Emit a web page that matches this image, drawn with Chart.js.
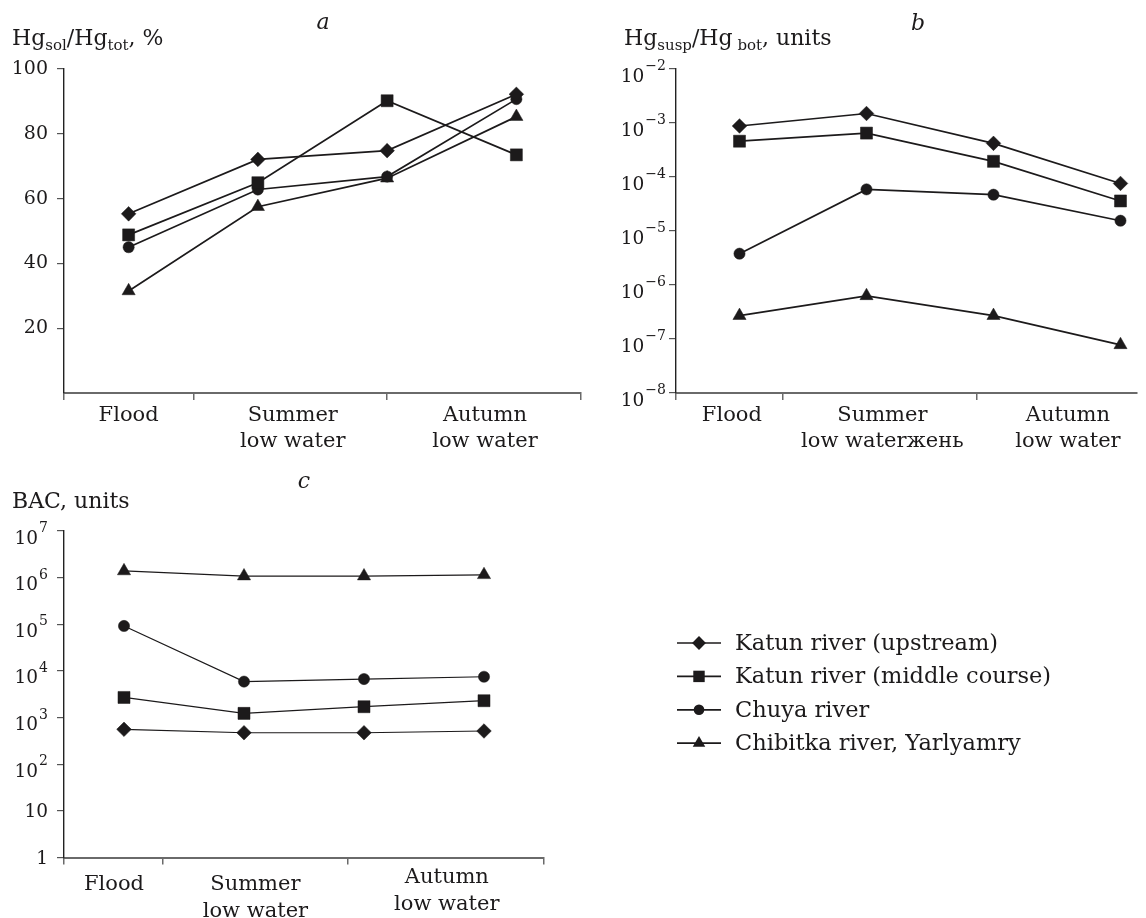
<!DOCTYPE html>
<html>
<head>
<meta charset="utf-8">
<title>Hg in Altai rivers</title>
<script src="https://cdn.jsdelivr.net/npm/chart.js@4.4.1/dist/chart.umd.min.js"></script>
<style>
  html, body { margin: 0; padding: 0; background: #fff; }
  #page { position: relative; width: 1146px; height: 918px; overflow: hidden; }
  .panel { position: absolute; }
</style>
</head>
<body>
<div id="page">
  <div class="panel" style="left:0;top:0;width:590px;height:460px"><canvas id="chartA"></canvas></div>
  <div class="panel" style="left:590px;top:0;width:556px;height:460px"><canvas id="chartB"></canvas></div>
  <div class="panel" style="left:0;top:460px;width:1146px;height:458px"><canvas id="chartC"></canvas></div>
</div>
<script>
// --- data ---
const samplePoints = [0, 1, 2, 3];
const rivers = ['Katun river (upstream)', 'Katun river (middle course)', 'Chuya river', 'Chibitka river, Yarlyamry'];
const periodsA = [['Flood'], ['Summer', 'low water'], ['Autumn', 'low water']];
const periodsB = [['Flood'], ['Summer', 'low waterжень'], ['Autumn', 'low water']];
const periodsC = [['Flood'], ['Summer', 'low water'], ['Autumn', 'low water']];

// a: Hg sol / Hg tot, %
const solKatunUp  = [55.3, 72.1, 74.8, 92.2];
const solKatunMid = [48.8, 64.9, 90.2, 73.5];
const solChuya    = [45.0, 62.8, 66.8, 90.7];
const solChibitka = [31.5, 57.5, 66.3, 85.3];
const ticksA = [20, 40, 60, 80, 100];

// b: Hg susp / Hg bot, units
const suspKatunUp  = [8.8e-4, 1.5e-3, 4.2e-4, 7.6e-5];
const suspKatunMid = [4.6e-4, 6.5e-4, 1.95e-4, 3.6e-5];
const suspChuya    = [3.8e-6, 5.9e-5, 4.7e-5, 1.55e-5];
const suspChibitka = [2.7e-7, 6.3e-7, 2.7e-7, 7.8e-8];
const powersB = [-8, -7, -6, -5, -4, -3, -2];

// c: BAC, units
const bacKatunUp  = [560, 473, 473, 515];
const bacKatunMid = [2700, 1230, 1710, 2300];
const bacChuya    = [92000, 5900, 6700, 7500];
const bacChibitka = [1.39e6, 1.08e6, 1.08e6, 1.15e6];
const powersC = [0, 1, 2, 3, 4, 5, 6, 7];

// --- style ---
const FONT = '"DejaVu Serif", "Liberation Serif", serif';
const INK = '#1c1a1b';
const shapes = ['rectRot', 'rect', 'circle', 'triangle'];
const radii = [7.3, 8.5, 5.6, 7.6];

Chart.defaults.font.family = FONT;
Chart.defaults.color = INK;

function drawRich(ctx, x, y, parts, size) {
  let cx = x;
  for (const [t, kind] of parts) {
    const s = kind === 'n' ? size : Math.round(size * 0.7);
    const dy = kind === 'sub' ? size * 0.22 : 0;
    ctx.font = s + 'px ' + FONT;
    ctx.fillText(t, cx, y + dy);
    cx += ctx.measureText(t).width;
  }
  return cx - x;
}

function drawMarker(ctx, shape, r, x, y) {
  ctx.beginPath();
  if (shape === 'circle') {
    ctx.arc(x, y, r, 0, Math.PI * 2);
  } else if (shape === 'rect') {
    const s = r * Math.SQRT1_2;
    ctx.rect(x - s, y - s, 2 * s, 2 * s);
  } else if (shape === 'rectRot') {
    ctx.moveTo(x, y - r); ctx.lineTo(x + r, y); ctx.lineTo(x, y + r); ctx.lineTo(x - r, y);
  } else {
    let a = 0;
    ctx.moveTo(x + Math.sin(a) * r, y - Math.cos(a) * r);
    a += Math.PI * 2 / 3;
    ctx.lineTo(x + Math.sin(a) * r, y - Math.cos(a) * r);
    a += Math.PI * 2 / 3;
    ctx.lineTo(x + Math.sin(a) * r, y - Math.cos(a) * r);
  }
  ctx.closePath();
  ctx.fill();
}

// texts that Chart.js can't typeset (sub/superscripts, free placed labels)
const panelText = {
  id: 'panelText',
  afterDraw(chart, args, o) {
    const ctx = chart.ctx;
    const xs = chart.scales.x, ys = chart.scales.y;
    ctx.save();
    ctx.fillStyle = INK;
    ctx.textBaseline = 'alphabetic';
    ctx.textAlign = 'center';
    ctx.font = 'italic 22px ' + FONT;
    ctx.fillText(o.letter, o.letterX, o.letterY);

    ctx.textAlign = 'left';
    drawRich(ctx, o.titleX, o.titleY, o.title, o.titleSize);

    ctx.textAlign = 'center';
    ctx.font = '21px ' + FONT;
    o.periods.forEach((lines, i) => {
      const px = xs.getPixelForValue(o.labelAt[i]);
      lines.forEach((ln, k) => ctx.fillText(ln, px, o.labelY[i] + k * o.lineGap));
    });

    if (o.powers) {
      ctx.textAlign = 'left';
      const right = chart.chartArea.left - 7 - o.tickGap;
      o.powers.forEach(p => {
        const y = ys.getPixelForValue(Math.pow(10, p));
        if (p === 0 || p === 1) {
          ctx.font = '18.5px ' + FONT;
          const t = p === 0 ? '1' : '10';
          ctx.fillText(t, right - ctx.measureText(t).width, y + 6.5);
        } else {
          const sup = p < 0 ? '\u2212' + (-p) : String(p);
          ctx.font = '14px ' + FONT;
          const ws = ctx.measureText(sup).width;
          ctx.fillText(sup, right - ws, y + 1);
          ctx.font = '18.5px ' + FONT;
          const w10 = ctx.measureText('10').width;
          ctx.fillText('10', right - ws - 1 - w10, y + 12.5);
        }
      });
    }
    ctx.restore();
  }
};

const riverLegend = {
  id: 'riverLegend',
  afterDraw(chart, args, o) {
    if (!o.show) return;
    const ctx = chart.ctx;
    ctx.save();
    chart.data.datasets.forEach((ds, i) => {
      const y = o.top + i * o.rowGap;
      ctx.strokeStyle = INK;
      ctx.lineWidth = 1.7;
      ctx.beginPath(); ctx.moveTo(o.lineFrom, y); ctx.lineTo(o.lineTo, y); ctx.stroke();
      ctx.fillStyle = INK;
      drawMarker(ctx, ds.pointStyle, ds.pointRadius * 0.95, (o.lineFrom + o.lineTo) / 2, y);
      ctx.font = '22.5px ' + FONT;
      ctx.textAlign = 'left';
      ctx.textBaseline = 'middle';
      ctx.fillText(ds.label, o.textX, y + 1);
    });
    ctx.restore();
  }
};

function makeChart(id, spec) {
  const datasets = spec.series.map((vals, i) => ({
    label: rivers[i],
    data: samplePoints.map((x, j) => ({ x: x, y: vals[j] })),
    borderColor: INK,
    backgroundColor: INK,
    borderWidth: spec.lineWidth,
    pointStyle: shapes[i],
    pointRadius: radii[i],
    pointBorderWidth: 0.5,
    pointBorderColor: INK,
    pointBackgroundColor: INK,
    tension: 0
  }));

  const yScale = {
    type: spec.yType,
    min: spec.yMin,
    max: spec.yMax,
    afterBuildTicks: s => { s.ticks = spec.yTicks.map(v => ({ value: v })); },
    afterFit: s => { s.width = spec.area.left; },
    grid: { drawOnChartArea: false, drawTicks: true, tickLength: 7, color: '#555', lineWidth: 1.2 },
    border: { display: true, color: '#222', width: 1.4 },
    ticks: {
      autoSkip: false,
      padding: 9,
      color: INK,
      font: { size: 19 },
      callback: spec.yTickText ? (v => String(v)) : (() => '')
    }
  };

  return new Chart(document.getElementById(id), {
    type: 'line',
    data: { datasets },
    options: {
      responsive: true,
      maintainAspectRatio: false,
      animation: false,
      events: [],
      layout: {
        padding: { left: 0, top: spec.area.top, right: spec.width - spec.area.right, bottom: 0 }
      },
      scales: {
        x: {
          type: 'linear',
          min: spec.xMin,
          max: spec.xMax,
          afterBuildTicks: s => { s.ticks = spec.xTicks.map(v => ({ value: v })); },
          afterFit: s => { s.height = spec.height - spec.area.bottom; },
          grid: { drawOnChartArea: false, drawTicks: true, tickLength: 7, color: '#6a6a6a', lineWidth: 1.5 },
          border: { display: true, color: '#6a6a6a', width: 2 },
          ticks: { autoSkip: false, callback: () => '' }
        },
        y: yScale
      },
      plugins: {
        legend: { display: false },
        tooltip: { enabled: false },
        panelText: spec.text,
        riverLegend: spec.legend || { show: false }
      }
    },
    plugins: [panelText, riverLegend]
  });
}

makeChart('chartA', {
  series: [solKatunUp, solKatunMid, solChuya, solChibitka],
  yType: 'linear', yMin: 0, yMax: 100, yTicks: ticksA, yTickText: true,
  width: 590, height: 460,
  area: { left: 64, top: 69, right: 581, bottom: 393 },
  xMin: -0.5, xMax: 3.5, xTicks: [-0.5, 0.5, 2, 3.5],
  lineWidth: 1.7,
  text: {
    letter: 'a', letterX: 323, letterY: 29,
    title: [['Hg', 'n'], ['sol', 'sub'], ['/Hg', 'n'], ['tot', 'sub'], [', %', 'n']],
    titleX: 12, titleY: 45, titleSize: 22,
    periods: periodsA, labelAt: [0, 1.27, 2.757], labelY: [421, 421, 421], lineGap: 26
  }
});

makeChart('chartB', {
  series: [suspKatunUp, suspKatunMid, suspChuya, suspChibitka],
  yType: 'logarithmic', yMin: 1e-8, yMax: 1e-2, yTicks: powersB.map(p => Math.pow(10, p)), yTickText: false,
  width: 556, height: 460,
  area: { left: 86, top: 69, right: 556, bottom: 393 },
  xMin: -0.5, xMax: 3.13, xTicks: [-0.5, 0.343, 1.872],
  lineWidth: 1.7,
  text: {
    letter: 'b', letterX: 328, letterY: 30,
    title: [['Hg', 'n'], ['susp', 'sub'], ['/Hg', 'n'], [' bot', 'sub'], [', units', 'n']],
    titleX: 34, titleY: 45, titleSize: 22,
    periods: periodsB, labelAt: [-0.06, 1.125, 2.586], labelY: [421, 421, 421], lineGap: 26,
    powers: powersB, tickGap: 3
  }
});

makeChart('chartC', {
  series: [bacKatunUp, bacKatunMid, bacChuya, bacChibitka],
  yType: 'logarithmic', yMin: 1, yMax: 1e7, yTicks: powersC.map(p => Math.pow(10, p)), yTickText: false,
  width: 1146, height: 458,
  area: { left: 64, top: 71, right: 544, bottom: 397.5 },
  xMin: -0.5, xMax: 3.5, xTicks: [-0.5, 0.324, 1.864, 3.5],
  lineWidth: 1.2,
  text: {
    letter: 'c', letterX: 304, letterY: 28,
    title: [['BAC, units', 'n']],
    titleX: 12, titleY: 48, titleSize: 22,
    periods: periodsC, labelAt: [-0.083, 1.095, 2.69], labelY: [430, 430, 423], lineGap: 27,
    powers: powersC, tickGap: 9
  },
  legend: { show: true, top: 183, rowGap: 33.4, lineFrom: 677, lineTo: 721, textX: 735 }
});
</script>
</body>
</html>
